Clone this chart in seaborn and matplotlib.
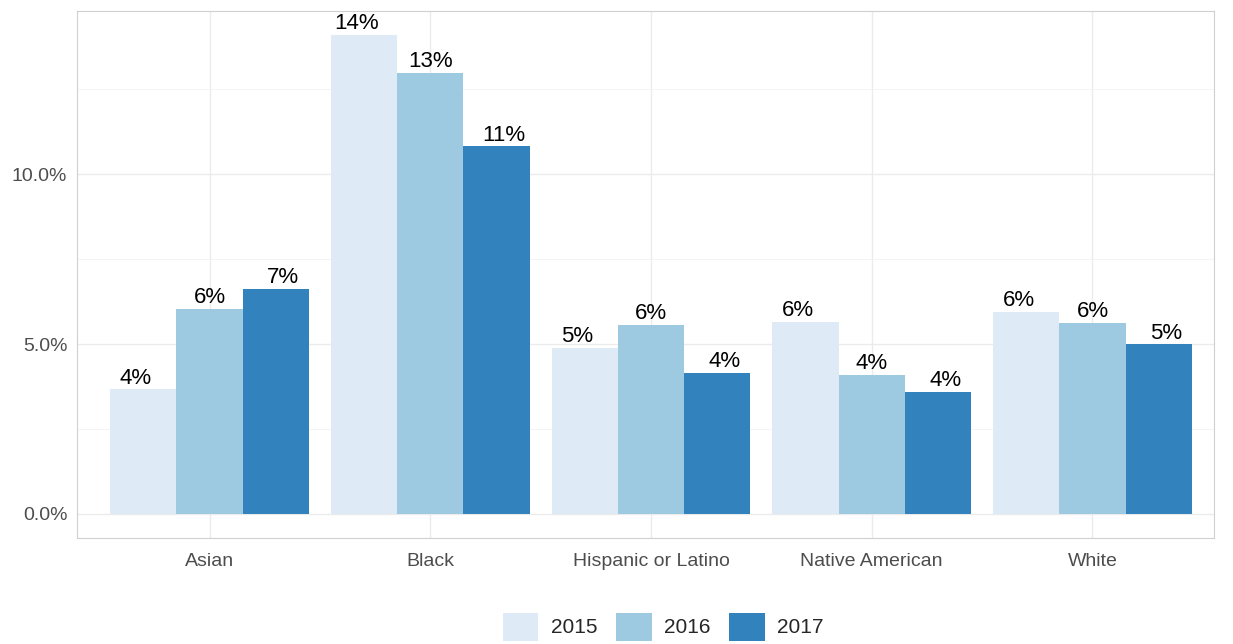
import matplotlib
matplotlib.use("Agg")
import matplotlib.pyplot as plt
from matplotlib.patches import Patch
from matplotlib.ticker import FixedLocator, FuncFormatter
import pandas as pd
import seaborn as sns

groups = ["Asian", "Black", "Hispanic or Latino", "Native American", "White"]
years = ["2015", "2016", "2017"]
v2015 = [3.67, 14.1, 4.9, 5.66, 5.95]
v2016 = [6.04, 12.99, 5.57, 4.1, 5.63]
v2017 = [6.63, 10.82, 4.16, 3.6, 4.99]
colors = ["#DEEBF7", "#9ECAE1", "#3182BD"]

df = pd.DataFrame({
    "group": groups * 3,
    "year": [y for y in years for _ in groups],
    "value": v2015 + v2016 + v2017,
})

sns.set_theme(style="whitegrid")
plt.rcParams["font.family"] = ["Liberation Sans", "DejaVu Sans"]

fig = plt.figure(figsize=(12.33, 6.44), dpi=100)
ax = fig.add_axes([0.0625, 0.165, 0.922, 0.818])

sns.barplot(data=df, x="group", y="value", hue="year", order=groups,
            hue_order=years, palette=colors, width=0.9, saturation=1,
            edgecolor="none", legend=False, ax=ax)

# labels dodged a bit wider than the bars (dodge width 1 vs 0.9)
for j, vals in enumerate([v2015, v2016, v2017]):
    for i, v in enumerate(vals):
        ax.text(i + (j - 1) / 3, v + 0.02, f"{round(v):.0f}%", ha="center",
                va="bottom", fontsize=16, color="black")

ax.set_xlim(-0.6, 4.55)
ax.set_ylim(-0.7, 14.81)
ax.yaxis.set_major_locator(FixedLocator([0, 5, 10]))
ax.yaxis.set_minor_locator(FixedLocator([2.5, 7.5, 12.5]))
ax.yaxis.set_major_formatter(FuncFormatter(lambda v, p: f"{v:.1f}%"))
ax.set_xlabel("")
ax.set_ylabel("")
ax.grid(True, which="major", color="#EBEBEB", linewidth=1.0)
ax.grid(True, which="minor", axis="y", color="#F2F2F2", linewidth=0.6)
ax.set_axisbelow(True)
for s in ax.spines.values():
    s.set_color("#D0D0D0")
    s.set_linewidth(0.8)
ax.tick_params(axis="both", which="major", labelsize=14, labelcolor="#4D4D4D",
               length=3, color="#D0D0D0", pad=4)
ax.tick_params(axis="x", which="major", pad=8)
ax.tick_params(axis="y", which="minor", length=0)

handles = [Patch(facecolor=c, edgecolor="none", label=y) for c, y in zip(colors, years)]
fig.legend(handles=handles, loc="center", bbox_to_anchor=(0.538, 0.027), ncol=3,
           frameon=False, fontsize=15, handlelength=1.7, handleheight=1.7,
           handletextpad=0.6, columnspacing=0.9)

fig.savefig("out.png", dpi=100)
